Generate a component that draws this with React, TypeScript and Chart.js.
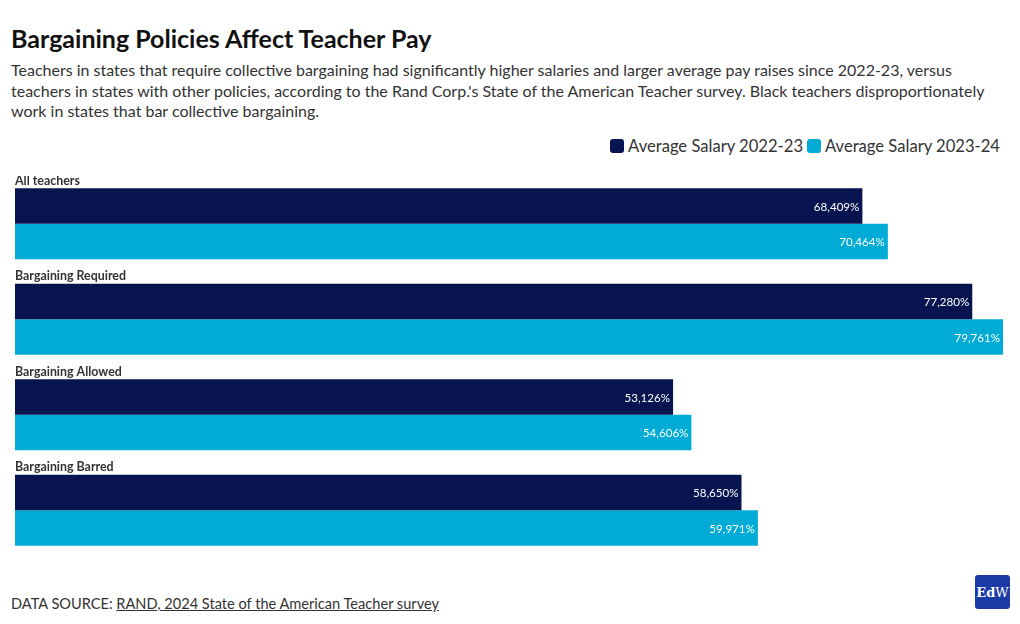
import React, { useEffect, useRef } from "react";
import { Chart, registerables } from "chart.js";

Chart.register(...registerables);

const categories = ["All teachers", "Bargaining Required", "Bargaining Allowed", "Bargaining Barred"];
const salary2223 = [68409, 77280, 53126, 58650];
const salary2324 = [70464, 79761, 54606, 59971];
const seriesLabels = ["Average Salary 2022-23", "Average Salary 2023-24"];
const seriesColors = ["#071450", "#00abd6"];

const FONT = "Lato, 'Noto Sans', sans-serif";

const labelPlugin = {
  id: "barLabels",
  afterDatasetsDraw(chart: any) {
    const ctx = chart.ctx;
    ctx.save();
    chart.data.datasets.forEach((ds: any, di: number) => {
      const meta = chart.getDatasetMeta(di);
      meta.data.forEach((bar: any, i: number) => {
        const v = ds.data[i];
        ctx.font = `11.6px ${FONT}`;
        ctx.fillStyle = "#ffffff";
        ctx.textAlign = "right";
        ctx.textBaseline = "middle";
        ctx.fillText(v.toLocaleString("en-US") + "%", bar.x - 3, bar.y + 1);
        if (di === 0) {
          ctx.font = `bold 12.4px ${FONT}`;
          ctx.fillStyle = "#333333";
          ctx.textAlign = "left";
          ctx.textBaseline = "bottom";
          ctx.fillText(categories[i], bar.base, bar.y - bar.height / 2 - 1);
        }
      });
    });
    ctx.restore();
  },
};

function BarChart() {
  const ref = useRef<HTMLCanvasElement>(null);
  useEffect(() => {
    if (!ref.current) return;
    const maxV = Math.max(...salary2223, ...salary2324);
    const chart = new Chart(ref.current, {
      type: "bar",
      data: {
        labels: categories,
        datasets: [
          { label: seriesLabels[0], data: salary2223, backgroundColor: seriesColors[0] },
          { label: seriesLabels[1], data: salary2324, backgroundColor: seriesColors[1] },
        ],
      },
      options: {
        indexAxis: "y",
        animation: false,
        responsive: false,
        maintainAspectRatio: false,
        layout: { padding: 0 },
        datasets: { bar: { categoryPercentage: 0.745, barPercentage: 1, borderWidth: 0 } },
        scales: {
          x: { display: false, min: 0, max: maxV },
          y: { display: false },
        },
        plugins: { legend: { display: false }, tooltip: { enabled: false } },
      } as any,
      plugins: [labelPlugin],
    });
    return () => chart.destroy();
  }, []);
  return <canvas ref={ref} width={988} height={382} style={{ display: "block" }} />;
}

export default function App() {
  return (
    <div style={{ position: "relative", width: 1004, height: 608, fontFamily: FONT, color: "#333" }}>
      <div style={{ position: "absolute", left: 3, top: 15, fontSize: 25, fontWeight: 700, color: "#111", whiteSpace: "nowrap" }}>
        Bargaining Policies Affect Teacher Pay
      </div>
      <div style={{ position: "absolute", left: 3, top: 52, fontSize: 16, lineHeight: "20.5px", color: "#333", whiteSpace: "nowrap" }}>
        Teachers in states that require collective bargaining had significantly higher salaries and larger average pay raises since 2022-23, versus
        <br />
        teachers in states with other policies, according to the Rand Corp.'s State of the American Teacher survey. Black teachers disproportionately
        <br />
        work in states that bar collective bargaining.
      </div>
      <div style={{ position: "absolute", right: 12, top: 128, display: "flex", alignItems: "center", fontSize: 16.6, color: "#333", whiteSpace: "nowrap" }}>
        {seriesLabels.map((l, i) => (
          <span key={l} style={{ display: "flex", alignItems: "center", marginLeft: i ? 4 : 0 }}>
            <span style={{ width: 14, height: 14, borderRadius: 3, background: seriesColors[i], display: "inline-block", marginRight: 4 }} />
            {l}
          </span>
        ))}
      </div>
      <div style={{ position: "absolute", left: 7, top: 168 }}>
        <BarChart />
      </div>
      <div style={{ position: "absolute", left: 3, top: 587, fontSize: 14.6, color: "#333", whiteSpace: "nowrap" }}>
        DATA SOURCE: <span style={{ textDecoration: "underline" }}>RAND, 2024 State of the American Teacher survey</span>
      </div>
      <div
        style={{
          position: "absolute",
          left: 967,
          top: 567,
          width: 35,
          height: 34,
          borderRadius: 3,
          background: "#1b3aa6",
          color: "#fff",
          display: "flex",
          alignItems: "center",
          justifyContent: "center",
          fontFamily: "'DejaVu Serif', 'Liberation Serif', serif",
          fontSize: 13,
        }}
      >
        <span style={{ fontWeight: 700 }}>Ed</span>
        <span>W</span>
      </div>
    </div>
  );
}
